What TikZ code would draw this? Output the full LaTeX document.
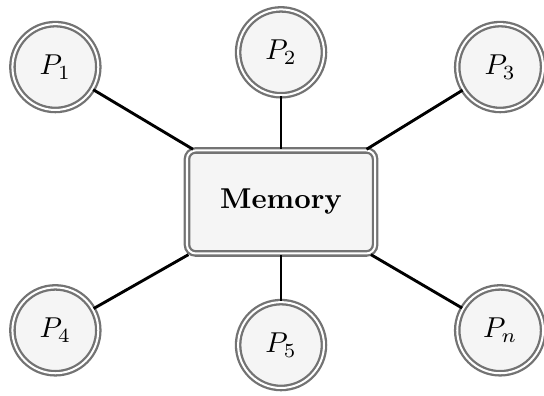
\documentclass[tikz,border=0pt]{standalone}
\usepackage{amsmath}
\usetikzlibrary{positioning}

\begin{document}
\begin{tikzpicture}[
       proc/.style = {circle, draw=black!55, double=white, double distance=0.7pt,
                      line width=0.8pt, fill=black!4, minimum size=1.05cm, inner sep=0pt},
        mem/.style = {rectangle, rounded corners=3pt, draw=black!55, double=white,
                      double distance=0.7pt, line width=0.8pt, fill=black!4,
                      minimum width=2.3cm, minimum height=1.26cm, font=\bfseries},
       link/.style = {line width=1pt}
                        ]
\useasboundingbox (-3.437,-2.373) rectangle (3.216,2.470);
\node (mem)[mem] at (0,0) {Memory};
\node (p1) [proc] at (-2.76, 1.65) {$P_1$};
\node (p2) [proc] at (0, 1.83) {$P_2$};
\node (p3) [proc] at (2.68, 1.65) {$P_3$};
\node (p4) [proc] at (-2.76,-1.57) {$P_4$};
\node (p5) [proc] at (0,-1.75) {$P_5$};
\node (pn) [proc] at (2.68,-1.57) {$P_n$};
\draw[link] (p1) to (mem);
\draw[link] (p2) to (mem);
\draw[link] (p3) to (mem);
\draw[link] (p4) to (mem);
\draw[link] (p5) to (mem);
\draw[link] (pn) to (mem);
\end{tikzpicture}
\end{document}
